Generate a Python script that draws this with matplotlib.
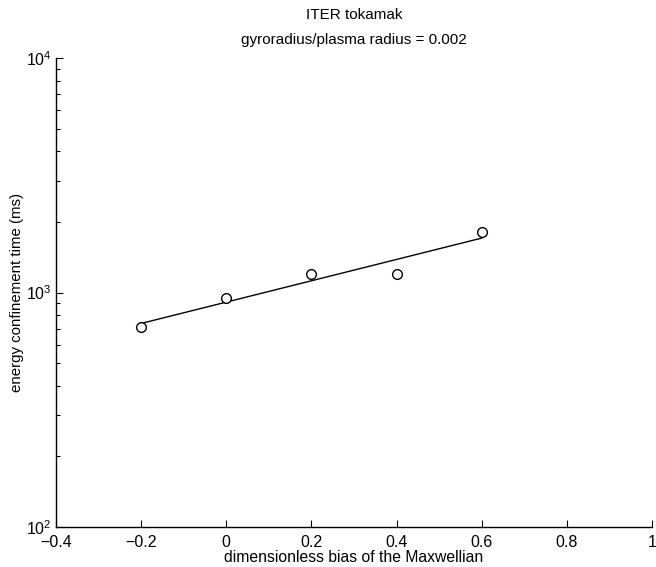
import matplotlib
matplotlib.use("Agg")
import matplotlib.pyplot as plt
from matplotlib.ticker import LogLocator, FixedLocator

plt.rcParams['font.family'] = ['Liberation Sans', 'DejaVu Sans']
plt.rcParams['mathtext.fontset'] = 'custom'
plt.rcParams['mathtext.rm'] = 'Liberation Sans'
plt.rcParams['mathtext.it'] = 'Liberation Sans'

bias = [-0.2, 0.0, 0.2, 0.4, 0.6]
tau_ms = [714, 950, 1199, 1199, 1815]
fit_x = [-0.2, 0.6]
fit_y = [738, 1706]
xticks = [-0.4, -0.2, 0, 0.2, 0.4, 0.6, 0.8, 1]
xticklabels = ['\u22120.4', '\u22120.2', '0', '0.2', '0.4', '0.6', '0.8', '1']

fig = plt.figure(figsize=(6.56, 5.67), dpi=100)
ax = fig.add_axes([56/656, 1-527/567, (652-56)/656, (527-58)/567])

ax.plot(fit_x, fit_y, color='black', lw=1.0)
ax.plot(bias, tau_ms, linestyle='none', marker='o', markersize=7,
        markerfacecolor='white', markeredgecolor='black', markeredgewidth=1.0)

ax.set_yscale('log')
ax.set_xlim(-0.4, 1)
ax.set_ylim(1e2, 1e4)
ax.xaxis.set_major_locator(FixedLocator(xticks))
ax.set_xticklabels(xticklabels)
ax.yaxis.set_major_locator(LogLocator(base=10, numticks=5))
ax.yaxis.set_minor_locator(LogLocator(base=10, subs=range(2, 10), numticks=20))

for s in ['top', 'right']:
    ax.spines[s].set_visible(False)
for s in ['left', 'bottom']:
    ax.spines[s].set_linewidth(1.0)

ax.tick_params(axis='both', which='major', direction='in', length=5, width=0.8,
               labelsize=11.5)
ax.tick_params(axis='x', which='major', pad=6)
ax.tick_params(axis='y', which='major', pad=3)
ax.tick_params(axis='y', which='minor', direction='in', length=3, width=0.8)
ax.tick_params(axis='x', which='minor', bottom=False)

ax.set_xlabel('dimensionless bias of the Maxwellian', fontsize=11.3, labelpad=0)
ax.set_ylabel('energy confinement time (ms)', fontsize=10.8)
ax.yaxis.set_label_coords(-0.054, 0.5)
ax.set_title('ITER tokamak\ngyroradius/plasma radius = 0.002', fontsize=11,
             linespacing=2.0, pad=10)

fig.savefig('out.png', dpi=100)
